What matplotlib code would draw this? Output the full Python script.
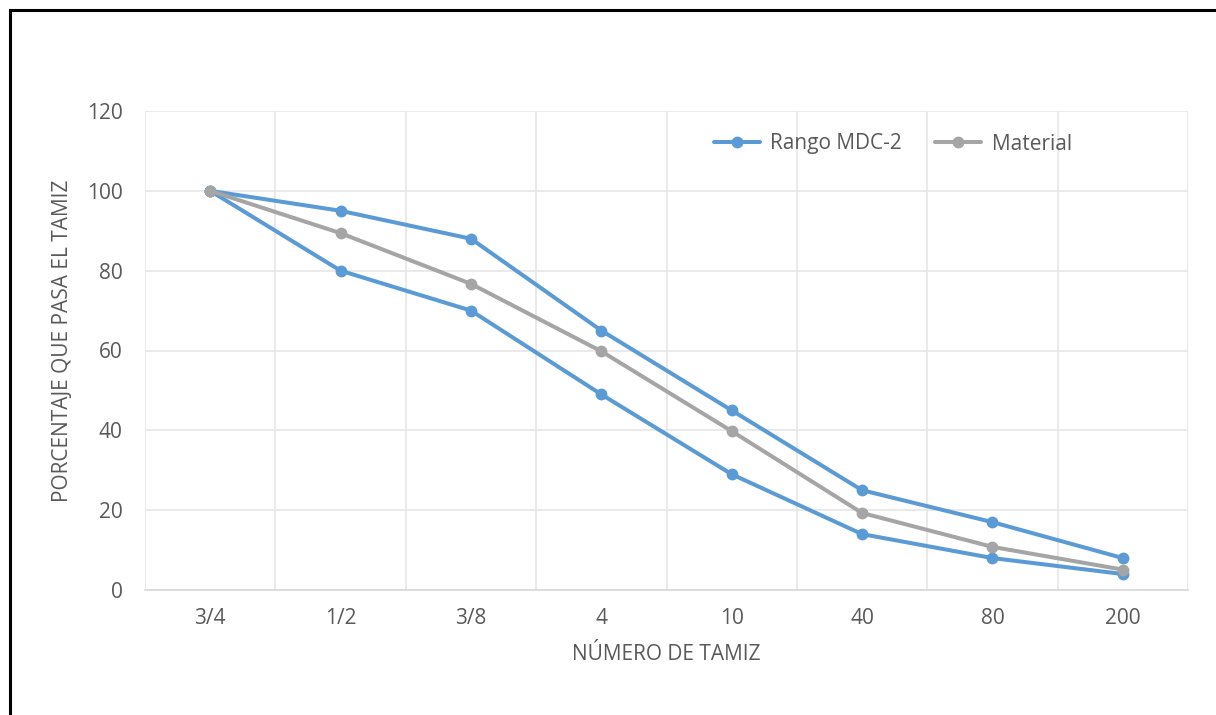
import matplotlib
matplotlib.use("Agg")
import matplotlib.pyplot as plt
from matplotlib.lines import Line2D

categories = ["3/4", "1/2", "3/8", "4", "10", "40", "80", "200"]
rango_sup = [100, 95, 88, 65, 45, 25, 17, 8]
rango_inf = [100, 80, 70, 49, 29, 14, 8, 4]
material = [100, 89.4, 76.7, 59.8, 39.8, 19.3, 10.8, 5.1]
y_ticks = [0, 20, 40, 60, 80, 100, 120]

plt.rcParams['font.family'] = ['Open Sans', 'DejaVu Sans']

BLUE = "#5B9BD5"
GRAY = "#A5A5A5"
TXT = "#595959"
GRID = "#E6E6E6"
FS = 15

fig = plt.figure(figsize=(12.16, 7.15), dpi=100)
ax = fig.add_axes([145/1216, 1-590/715, (1188-145)/1216, (590-111)/715])

x = list(range(len(categories)))
kw = dict(linewidth=2.9, marker="o", markersize=7.5, solid_capstyle="round")
ax.plot(x, rango_sup, color=BLUE, zorder=3, **kw)
ax.plot(x, rango_inf, color=BLUE, zorder=3, **kw)
ax.plot(x, material, color=GRAY, zorder=4, **kw)

ax.set_xlim(-0.5, len(categories) - 0.5)
ax.set_ylim(0, 120)
ax.set_yticks(y_ticks)
ax.set_xticks(x)
ax.set_xticklabels(categories)
ax.set_xticks([i + 0.5 for i in range(-1, len(categories))], minor=True)
ax.grid(True, which="minor", axis="x", color=GRID, linewidth=1.2)
ax.grid(True, which="major", axis="y", color=GRID, linewidth=1.2)
ax.set_axisbelow(True)
for s in ["left", "right", "top"]:
    ax.spines[s].set_visible(False)
ax.spines["bottom"].set_color("#D9D9D9")
ax.spines["bottom"].set_linewidth(1.2)
ax.tick_params(which="both", length=0)
ax.tick_params(axis="x", pad=13, labelsize=FS, colors=TXT)
ax.tick_params(axis="y", pad=16, labelsize=FS, colors=TXT)

ax.set_xlabel("NÚMERO DE TAMIZ", fontsize=FS, color=TXT)
ax.xaxis.set_label_coords(0.5, -0.112)
ax.set_ylabel("PORCENTAJE QUE PASA EL TAMIZ", fontsize=FS, color=TXT)
ax.yaxis.set_label_coords(-0.069, 0.52)

handles = [Line2D([], [], color=BLUE, **kw), Line2D([], [], color=GRAY, **kw)]
leg = ax.legend(handles, ["Rango MDC-2", "Material"], loc="center left",
                bbox_to_anchor=((714-145)/1043, (590-144)/479), ncol=2, frameon=False,
                fontsize=FS, handlelength=2.2, columnspacing=1.6,
                handletextpad=0.5, borderpad=0, borderaxespad=0)
for t in leg.get_texts():
    t.set_color(TXT)

# outer frame (top and left visible)
fig.add_artist(Line2D([10/1216, 10/1216], [0, 1-10/715], color="black", linewidth=2.2))
fig.add_artist(Line2D([10/1216, 1], [1-10/715, 1-10/715], color="black", linewidth=2.2))

fig.savefig("out.png", dpi=100)
